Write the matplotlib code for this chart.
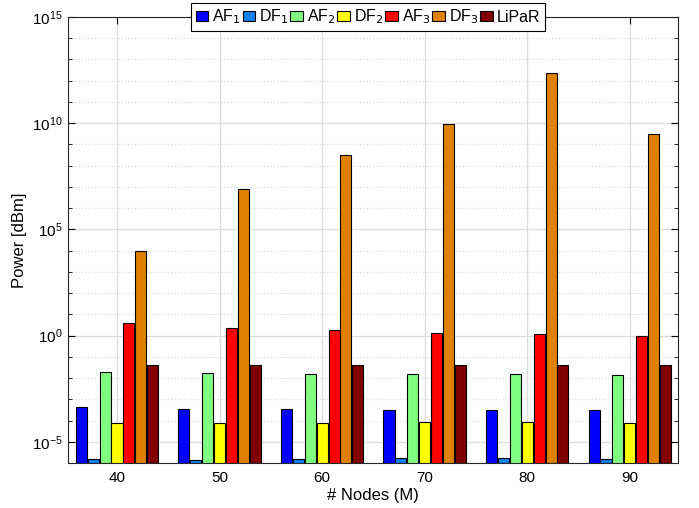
import numpy as np
import matplotlib.pyplot as plt
from matplotlib.ticker import LogLocator, NullFormatter

plt.rcParams['font.family'] = ['Liberation Sans', 'DejaVu Sans']

nodes = [40, 50, 60, 70, 80, 90]
labels = [r'AF$_1$', r'DF$_1$', r'AF$_2$', r'DF$_2$', r'AF$_3$', r'DF$_3$', 'LiPaR']
colors = ['#0000ff', '#1280f0', '#80ff80', '#ffff00', '#ff0000', '#e08000', '#800000']

# log10 of power values
af1 = [-3.38, -3.44, -3.47, -3.50, -3.51, -3.52]
df1 = [-5.83, -5.85, -5.80, -5.77, -5.75, -5.79]
af2 = [-1.70, -1.75, -1.79, -1.82, -1.81, -1.84]
df2 = [-4.14, -4.14, -4.10, -4.07, -4.09, -4.12]
af3 = [0.58, 0.36, 0.24, 0.13, 0.05, -0.02]
df3 = [3.98, 6.89, 8.52, 9.94, 12.37, 9.47]
lipar = [-1.37, -1.37, -1.38, -1.38, -1.37, -1.37]
series = [af1, df1, af2, df2, af3, df3, lipar]

fig = plt.figure(figsize=(6.99, 5.08), dpi=100)
ax = fig.add_axes([0.097, 0.0886, 0.873, 0.878])

x = np.array(nodes, dtype=float)
pitch = 1.16
width = 1.08
bottom = 1e-6
for i, (vals, lab, col) in enumerate(zip(series, labels, colors)):
    h = 10.0 ** np.array(vals) - bottom
    ax.bar(x + (i - 3) * pitch, h, width, bottom=bottom, color=col,
           edgecolor='black', linewidth=0.8, label=lab, zorder=3)

ax.set_yscale('log')
ax.set_ylim(1e-6, 1e15)
ax.set_xlim(35.2, 94.7)
ax.set_xticks(nodes)
ax.set_yticks([1e-5, 1e0, 1e5, 1e10, 1e15])
ax.yaxis.set_minor_locator(LogLocator(base=10, subs=(1.0,), numticks=30))
ax.yaxis.set_minor_formatter(NullFormatter())

ax.grid(True, which='major', color='#dddddd', linewidth=0.9, zorder=0)
ax.grid(True, which='minor', axis='y', color='#dddddd', linestyle=':', linewidth=0.9, zorder=0)
ax.set_axisbelow(True)

ax.tick_params(which='both', direction='in', top=True, right=True, labelsize=11)
ax.tick_params(which='major', length=5)
ax.tick_params(which='minor', length=3)
ax.tick_params(axis='x', pad=6)
for s in ax.spines.values():
    s.set_color('#262626')
    s.set_linewidth(0.8)

ax.set_xlabel('# Nodes (M)', fontsize=12, labelpad=2)
ax.set_ylabel('Power [dBm]', fontsize=12, labelpad=4)

leg = ax.legend(loc='center', bbox_to_anchor=(0.492, 1.0), ncol=7, fontsize=11.5,
                fancybox=False, edgecolor='black', framealpha=1,
                handlelength=0.8, handleheight=0.55, handletextpad=0.25,
                columnspacing=0.1, borderpad=0.3, borderaxespad=0)
leg.get_frame().set_linewidth(0.8)

fig.savefig('out.png', dpi=100)
